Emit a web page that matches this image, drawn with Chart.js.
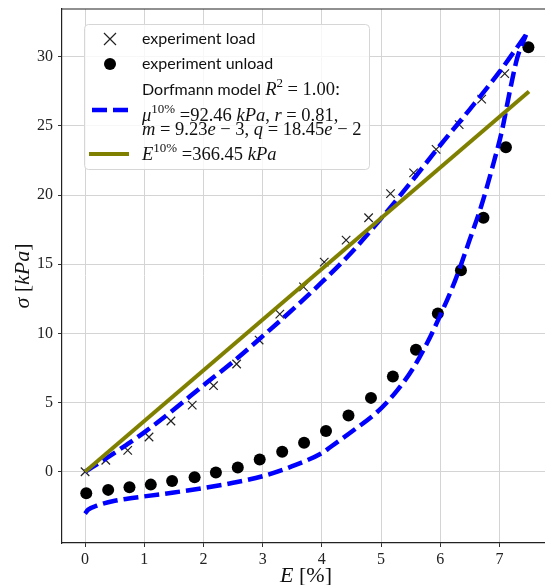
<!DOCTYPE html>
<html>
<head>
<meta charset="utf-8">
<script src="https://cdn.jsdelivr.net/npm/chart.js@4.4.0/dist/chart.umd.min.js"></script>
<style>
  html, body { margin: 0; padding: 0; background: #fff; overflow: hidden; }
</style>
</head>
<body>
<canvas id="chart" width="545" height="585"></canvas>
<script>
// measured values (strain in %, stress in kPa)
var loadStrain = [0, 0.35, 0.72, 1.08, 1.45, 1.81, 2.17, 2.56, 2.94, 3.29, 3.69, 4.04, 4.41, 4.79, 5.16, 5.55, 5.93, 6.32, 6.70, 7.09];
var loadStress = [0, 0.83, 1.55, 2.51, 3.67, 4.82, 6.22, 7.79, 9.52, 11.39, 13.36, 15.15, 16.74, 18.36, 20.1, 21.6, 23.3, 25.09, 26.94, 28.78];

var unloadStrain = [0.02, 0.39, 0.75, 1.11, 1.47, 1.85, 2.21, 2.58, 2.95, 3.33, 3.70, 4.07, 4.45, 4.83, 5.20, 5.59, 5.96, 6.35, 6.73, 7.11, 7.49];
var unloadStress = [-1.55, -1.31, -1.12, -0.93, -0.67, -0.40, -0.05, 0.31, 0.88, 1.45, 2.10, 2.95, 4.06, 5.34, 6.89, 8.82, 11.44, 14.56, 18.36, 23.45, 30.69];

// Dorfmann model, loading branch
var modelLoadStrain = [0, 0.35, 0.7, 1.0, 1.5, 2.0, 2.5, 3.0, 3.5, 4.0, 4.5, 5.0, 5.5, 6.0, 6.5, 7.0, 7.45];
var modelLoadStress = [0, 0.95, 1.95, 2.85, 4.5, 6.25, 7.95, 9.8, 11.7, 13.7, 15.85, 18.3, 20.9, 23.6, 26.2, 28.9, 31.6];

// Dorfmann model, unloading branch
var modelUnloadStrain = [0, 0.05, 0.2, 0.5, 1.0, 1.5, 2.0, 2.5, 3.0, 3.5, 4.0, 4.14, 4.53, 4.93, 5.27, 5.55, 5.77, 6.0, 6.25, 6.5, 6.7, 6.9, 7.04, 7.18, 7.3, 7.45];
var modelUnloadStress = [-3.02, -2.75, -2.45, -2.1, -1.78, -1.5, -1.18, -0.8, -0.32, 0.4, 1.35, 1.77, 2.98, 4.3, 5.86, 7.54, 9.23, 11.3, 13.8, 16.8, 19.3, 22.3, 24.6, 27.6, 29.9, 31.6];

// linear fit E = 366.45 kPa
var linearStrain = [0, 7.5];
var linearStress = [0, 27.48];

var xTicks = [0, 1, 2, 3, 4, 5, 6, 7];
var yTicks = [0, 5, 10, 15, 20, 25, 30];

function pts(xs, ys) {
  return xs.map(function (x, i) { return { x: x, y: ys[i] }; });
}

var SERIF = '"Liberation Serif", serif';
var SANS = 'Lato, "DejaVu Sans", sans-serif';

function setFont(ctx, st, size) {
  if (st === 'i') ctx.font = 'italic ' + size + 'px ' + SERIF;
  else if (st === 's') ctx.font = Math.round(size * 0.7) + 'px ' + SERIF;
  else if (st === 'n') ctx.font = '16px ' + SANS;
  else ctx.font = size + 'px ' + SERIF;
}

// draw a run of text pieces: r roman, i italic, s superscript, n sans
function richText(ctx, x, y, segs, size) {
  var cx = x;
  segs.forEach(function (s) {
    setFont(ctx, s[1], size);
    ctx.fillText(s[0], cx, y + (s[1] === 's' ? -size * 0.42 : 0));
    cx += ctx.measureText(s[0]).width;
  });
  return cx - x;
}

function richWidth(ctx, segs, size) {
  var w = 0;
  segs.forEach(function (s) {
    setFont(ctx, s[1], size);
    w += ctx.measureText(s[0]).width;
  });
  return w;
}

var framePlugin = {
  id: 'frame',
  afterDraw: function (chart) {
    var ctx = chart.ctx, a = chart.chartArea;
    ctx.save();
    ctx.strokeStyle = '#222';
    ctx.lineWidth = 1.2;
    ctx.beginPath();
    ctx.moveTo(a.left, a.top);
    ctx.lineTo(a.right, a.top);
    ctx.stroke();

    // axis titles
    ctx.fillStyle = '#111';
    ctx.textBaseline = 'alphabetic';
    var xt = [['E', 'i'], [' [%]', 'r']];
    var w = richWidth(ctx, xt, 22);
    richText(ctx, 306 - w / 2, 582, xt, 22);

    var yt = [['σ', 'i'], [' [', 'r'], ['kPa', 'i'], [']', 'r']];
    w = richWidth(ctx, yt, 22);
    ctx.translate(29, 276);
    ctx.rotate(-Math.PI / 2);
    richText(ctx, -w / 2, 0, yt, 22);
    ctx.restore();
  }
};

var legendPlugin = {
  id: 'box',
  afterDraw: function (chart) {
    var ctx = chart.ctx;
    ctx.save();
    // frame
    var bx = 84.5, by = 24.5, bw = 285, bh = 145, r = 4;
    ctx.beginPath();
    ctx.moveTo(bx + r, by);
    ctx.arcTo(bx + bw, by, bx + bw, by + bh, r);
    ctx.arcTo(bx + bw, by + bh, bx, by + bh, r);
    ctx.arcTo(bx, by + bh, bx, by, r);
    ctx.arcTo(bx, by, bx + bw, by, r);
    ctx.closePath();
    ctx.fillStyle = 'rgba(255,255,255,0.8)';
    ctx.fill();
    ctx.strokeStyle = '#d6d6d6';
    ctx.lineWidth = 1;
    ctx.stroke();

    // handles
    ctx.strokeStyle = '#222';
    ctx.lineWidth = 1.2;
    ctx.beginPath();
    ctx.moveTo(104, 33); ctx.lineTo(116, 45);
    ctx.moveTo(116, 33); ctx.lineTo(104, 45);
    ctx.stroke();

    ctx.fillStyle = '#000';
    ctx.beginPath();
    ctx.arc(110, 64, 6, 0, Math.PI * 2);
    ctx.fill();

    ctx.strokeStyle = '#0000ff';
    ctx.lineWidth = 4.5;
    ctx.setLineDash([15, 6]);
    ctx.beginPath();
    ctx.moveTo(92, 110); ctx.lineTo(129, 110);
    ctx.stroke();
    ctx.setLineDash([]);

    ctx.strokeStyle = '#808000';
    ctx.lineWidth = 4;
    ctx.beginPath();
    ctx.moveTo(89, 154); ctx.lineTo(129, 154);
    ctx.stroke();

    // labels
    ctx.fillStyle = '#111';
    ctx.textBaseline = 'alphabetic';
    var tx = 142, fs = 18.5;
    richText(ctx, tx, 44, [['experiment load', 'n']], fs);
    richText(ctx, tx, 69, [['experiment unload', 'n']], fs);
    richText(ctx, tx, 95, [['Dorfmann model ', 'n'], ['R', 'i'], ['2', 's'], [' = 1.00:', 'r']], fs);
    richText(ctx, tx, 120.5, [['μ', 'i'], ['10%', 's'], [' =92.46 ', 'r'], ['kPa', 'i'], [', ', 'r'], ['r', 'i'], [' = 0.81,', 'r']], fs);
    richText(ctx, tx, 134.5, [['m', 'i'], [' = 9.23', 'r'], ['e', 'i'], [' − 3, ', 'r'], ['q', 'i'], [' = 18.45', 'r'], ['e', 'i'], [' − 2', 'r']], fs);
    richText(ctx, tx, 160, [['E', 'i'], ['10%', 's'], [' =366.45 ', 'r'], ['kPa', 'i']], fs);
    ctx.restore();
  }
};

var modelStyle = {
  type: 'line',
  borderColor: '#0000ff',
  borderWidth: 4.5,
  borderDash: [15, 6],
  pointRadius: 0,
  cubicInterpolationMode: 'monotone',
  fill: false,
  order: 1
};

var ctx = document.getElementById('chart').getContext('2d');
var chart = new Chart(ctx, {
  type: 'scatter',
  data: {
    datasets: [{
      label: 'E fit',
      type: 'line',
      data: pts(linearStrain, linearStress),
      borderColor: '#808000',
      borderWidth: 4,
      pointRadius: 0,
      fill: false,
      order: 0
    }, Object.assign({ label: 'Dorfmann model', data: pts(modelLoadStrain, modelLoadStress) }, modelStyle),
    Object.assign({ label: 'Dorfmann model unload', data: pts(modelUnloadStrain, modelUnloadStress) }, modelStyle),
    {
      label: 'experiment unload',
      data: pts(unloadStrain, unloadStress),
      pointStyle: 'circle',
      pointRadius: 6,
      pointBackgroundColor: '#000',
      pointBorderColor: '#000',
      pointBorderWidth: 0,
      order: 2
    }, {
      label: 'experiment load',
      data: pts(loadStrain, loadStress),
      pointStyle: 'crossRot',
      pointRadius: 6,
      pointBorderColor: '#222',
      pointBorderWidth: 1.2,
      order: 3
    }]
  },
  options: {
    responsive: false,
    animation: false,
    events: [],
    layout: { autoPadding: false, padding: { top: 9, right: 0, left: 0, bottom: 0 } },
    plugins: { legend: { display: false }, tooltip: { enabled: false } },
    scales: {
      x: {
        type: 'linear',
        min: -0.39,
        max: 7.77,
        afterBuildTicks: function (s) { s.ticks = xTicks.map(function (v) { return { value: v }; }); },
        afterFit: function (s) { s.height = 42; s.paddingLeft = 0; s.paddingRight = 0; },
        grid: { color: '#d4d4d4', lineWidth: 1, tickLength: 4, tickColor: '#333' },
        border: { color: '#222', width: 1.2 },
        ticks: { font: { family: SERIF, size: 16 }, color: '#222', padding: 3, maxRotation: 0 }
      },
      y: {
        type: 'linear',
        min: -5.15,
        max: 33.45,
        afterBuildTicks: function (s) { s.ticks = yTicks.map(function (v) { return { value: v }; }); },
        afterFit: function (s) { s.width = 62; s.paddingTop = 0; s.paddingBottom = 0; },
        grid: { color: '#d4d4d4', lineWidth: 1, tickLength: 4, tickColor: '#333' },
        border: { color: '#222', width: 1.2 },
        ticks: { font: { family: SERIF, size: 16 }, color: '#222', padding: 5 }
      }
    }
  },
  plugins: [framePlugin, legendPlugin]
});
</script>
</body>
</html>
